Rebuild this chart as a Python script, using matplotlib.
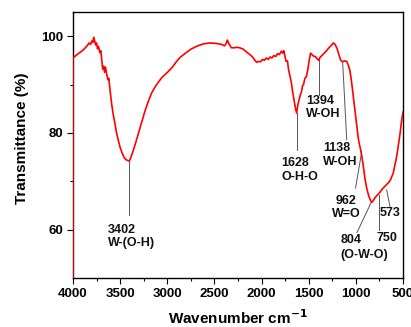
import matplotlib
matplotlib.use("Agg")
import matplotlib.pyplot as plt

plt.rcParams['font.family'] = ['Liberation Sans', 'DejaVu Sans']
plt.rcParams['font.weight'] = 'bold'

# FTIR spectrum (wavenumber cm-1, transmittance %)
wavenumber = [4000, 4000, 3950, 3900, 3870, 3850, 3830, 3815, 3800, 3790, 3780, 3770,
              3760, 3750, 3740, 3730, 3715, 3705, 3695, 3685, 3675, 3665, 3655, 3645,
              3630, 3620, 3605, 3590, 3575, 3560, 3540, 3520, 3500, 3480, 3460, 3440,
              3420, 3402, 3385, 3360, 3330, 3300, 3270, 3240, 3200, 3165, 3120, 3060,
              3000, 2950, 2900, 2865, 2800, 2750, 2690, 2620, 2550, 2480, 2420, 2395,
              2380, 2363, 2345, 2320, 2290, 2264, 2230, 2194, 2150, 2100, 2070, 2052,
              2030, 2010, 1990, 1970, 1950, 1930, 1910, 1890, 1870, 1850, 1830, 1810,
              1790, 1775, 1765, 1752, 1740, 1725, 1715, 1700, 1685, 1670, 1655, 1640,
              1628, 1615, 1600, 1590, 1575, 1565, 1555, 1540, 1525, 1510, 1495, 1480,
              1465, 1450, 1430, 1410, 1394, 1380, 1360, 1340, 1310, 1290, 1260, 1239,
              1220, 1200, 1180, 1160, 1140, 1120, 1097, 1080, 1062, 1045, 1027, 1010,
              990, 975, 962, 950, 935, 920, 903, 885, 868, 850, 833, 815, 797, 770,
              750, 720, 690, 670, 650, 635, 620, 603, 590, 573, 560, 550, 530, 515, 500]
transmittance = [45.0, 95.5, 96.3, 97.0, 97.6, 98.0, 98.6, 98.3, 99.0, 98.7, 99.8, 99.0,
                 98.2, 98.6, 97.4, 97.9, 96.6, 97.0, 95.0, 93.2, 93.8, 92.5, 93.6, 92.4,
                 91.0, 91.3, 88.5, 86.0, 84.0, 82.5, 80.2, 78.5, 77.0, 75.9, 75.0, 74.5,
                 74.3, 74.2, 75.0, 76.4, 78.3, 80.3, 82.3, 84.3, 86.6, 88.3, 89.8, 91.4,
                 92.5, 93.5, 94.8, 95.6, 96.6, 97.3, 97.9, 98.4, 98.6, 98.5, 98.3, 98.0,
                 98.3, 99.2, 98.4, 97.6, 97.6, 97.7, 97.6, 97.3, 96.6, 95.8, 95.0, 94.6,
                 94.8, 94.7, 95.2, 95.0, 95.5, 95.2, 95.7, 95.5, 96.0, 95.8, 96.4, 96.2,
                 96.9, 96.5, 97.0, 95.8, 94.8, 94.9, 93.2, 91.8, 90.5, 88.5, 86.8, 85.0,
                 84.1, 85.8, 87.0, 87.8, 88.6, 89.8, 90.0, 91.3, 91.6, 93.0, 95.0, 96.5,
                 96.2, 95.9, 95.8, 95.3, 95.0, 95.6, 96.0, 96.4, 97.0, 97.5, 98.1, 98.6,
                 98.3, 97.5, 96.2, 95.0, 94.7, 94.9, 94.8, 94.0, 92.8, 90.5, 87.5, 84.5,
                 81.2, 79.0, 77.6, 76.6, 75.0, 73.0, 70.5, 68.6, 67.3, 66.3, 65.6, 66.0,
                 66.6, 67.2, 67.6, 68.4, 69.0, 69.4, 69.8, 70.2, 70.9, 71.7, 73.0, 74.5,
                 76.0, 77.3, 80.0, 82.5, 84.3]

# peak labels: text, label position, label alignment, leader line (x0, y0, x1, y1)
peak_labels = ["3402\nW-(O-H)", "1628\nO-H-O", "1394\nW-OH", "1138\nW-OH",
               "962\nW=O", "804", "(O-W-O)", "750", "573"]
label_x = [3629, 1787, 1529, 1345, 1105, 1163, 1163, 667, 638]
label_y = [58.6, 72.3, 85.3, 75.4, 64.6, 57.9, 54.8, 58.3, 63.4]
label_ha = ["left", "left", "left", "left", "center", "left", "left", "center", "center"]
leaders = [(3402, 74.4, 3402, 63.1), (1628, 84.1, 1628, 76.5),
           (1394, 95.1, 1394, 87.8), (1140, 94.7, 1097, 78.6),
           (938, 76.1, 1003, 68.6), (843, 65.4, 988, 59.4),
           (752, 67.2, 752, 60.0), (673, 68.2, 638, 64.8)]

fig = plt.figure(figsize=(4.11, 3.27), dpi=100)
ax = fig.add_axes([0.1776, 0.1498, 0.8029, 0.8135])

ax.plot(wavenumber, transmittance, color='#ff0000', lw=1.2, zorder=3)

for (x0, y0, x1, y1) in leaders:
    ax.plot([x0, x1], [y0, y1], color='#555555', lw=0.7, zorder=2)

for txt, x, y, ha in zip(peak_labels, label_x, label_y, label_ha):
    ax.text(x, y, txt, ha=ha, va='center', fontsize=9, fontweight='bold',
            multialignment=ha, linespacing=1.15, color='#111111')

ax.set_xlim(4000, 500)
ax.set_ylim(50, 105)
ax.set_xticks([4000, 3500, 3000, 2500, 2000, 1500, 1000, 500])
ax.set_xticks(range(3750, 500, -500), minor=True)
ax.set_yticks([60, 80, 100])
ax.set_yticks([70, 90], minor=True)
ax.tick_params(which='both', direction='out', top=False, right=False,
               labelsize=9.5, pad=3)
ax.tick_params(which='major', length=4, width=0.8)
ax.tick_params(which='minor', length=2.5, width=0.8)
for s in ax.spines.values():
    s.set_linewidth(1.0)

ax.set_xlabel('Wavenumber cm$^{\\mathbf{-1}}$', fontsize=11, fontweight='bold', labelpad=6)
ax.set_ylabel('Transmittance (%)', fontsize=11, fontweight='bold', labelpad=9)
ax.yaxis.label.set_y(0.526)

fig.savefig('out.png', dpi=100)
